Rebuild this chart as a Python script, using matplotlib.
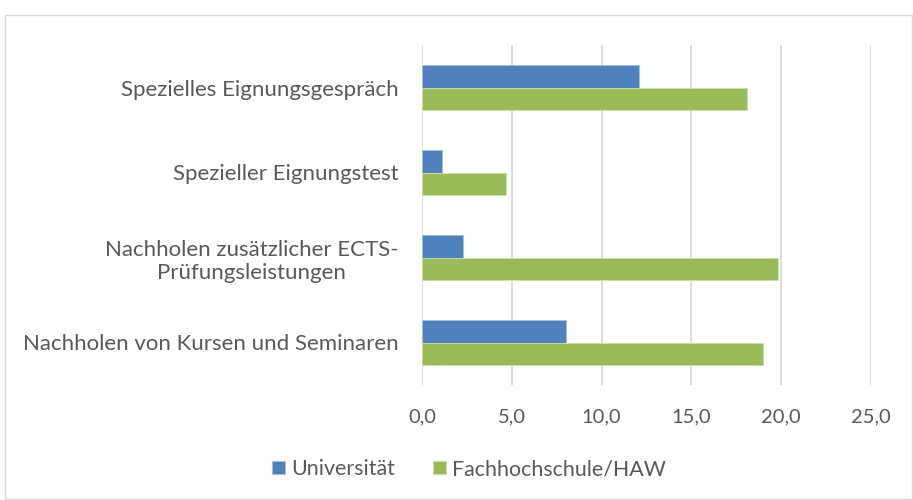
import matplotlib.pyplot as plt
import matplotlib.patches as mpatches
import numpy as np

# Daten (von unten nach oben, wie im Diagramm)
kategorien = [
    'Nachholen von Kursen und Seminaren',
    'Nachholen zusätzlicher ECTS-\nPrüfungsleistungen',
    'Spezieller Eignungstest',
    'Spezielles Eignungsgespräch',
]
universitaet = [8.0, 2.3, 1.1, 12.1]
fachhochschule = [19.0, 19.8, 4.7, 18.1]
xticks = [0, 5, 10, 15, 20, 25]

plt.rcParams['font.family'] = ['Lato', 'DejaVu Sans']
grau = '#595959'

fig = plt.figure(figsize=(9.13, 5.0), dpi=100)
ax = fig.add_axes([422 / 913, 1 - 385 / 500, 449 / 913, 340 / 500])

y = np.arange(len(kategorien))
h = 0.26
ax.barh(y + h / 2, universitaet, height=h, color='#4F81BD', edgecolor='#A7C0DE', linewidth=0.6, label='Universität', zorder=3)
ax.barh(y - h / 2, fachhochschule, height=h, color='#9BBB59', edgecolor='#CDDDAC', linewidth=0.6, label='Fachhochschule/HAW', zorder=3)

ax.set_xlim(0, 25)
ax.set_ylim(-0.5, len(kategorien) - 0.5)
ax.set_xticks(xticks)
ax.set_xticklabels([f'{v:.1f}'.replace('.', ',') for v in xticks], fontsize=14.5, color=grau)
ax.set_yticks(y)
ax.set_yticklabels(kategorien, fontsize=16, color=grau, multialignment='center')
ax.tick_params(axis='both', length=0)
ax.tick_params(axis='y', pad=17)
ax.tick_params(axis='x', pad=17)
ax.grid(axis='x', color='#D9D9D9', linewidth=1.3, zorder=0)
for s in ax.spines.values():
    s.set_visible(False)

fig.legend(loc='center', bbox_to_anchor=(469 / 913, 1 - 469 / 500), ncol=2, frameon=False,
           fontsize=15.4, labelcolor=grau, handlelength=0.61, handleheight=0.61,
           handletextpad=0.28, columnspacing=1.8, borderpad=0, borderaxespad=0)

# Rahmen um das Diagramm
fig.patches.append(mpatches.Rectangle((5 / 913, 1 / 500), 907 / 913, 484 / 500, transform=fig.transFigure,
                                      fill=False, edgecolor='#D9D9D9', linewidth=1.0))

fig.savefig('out.png', dpi=100)
